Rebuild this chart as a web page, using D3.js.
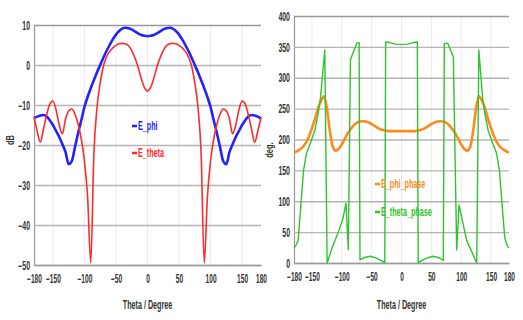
<!DOCTYPE html>
<html>
<head>
<meta charset="utf-8">
<script src="https://cdn.jsdelivr.net/npm/d3@7"></script>
<style>
  body { margin: 0; background: #fff; }
  svg { display: block; }
  text { font-family: "Liberation Sans", Arial, sans-serif; }
</style>
</head>
<body>
<svg id="chart" width="523" height="320"></svg>
<script>
// angle grid shared by the gain curves and the E_phi phase
const thetaGrid = d3.range(-180, 181, 5);

// left panel, dB
const ePhiDb = [
  -13.3, -12.9, -12.6, -12.5, -12.9, -13.8, -15, -16.5, -18, -19.8, -21.8, -24.8, -24,
  -20.5, -17, -13.8, -10.5, -8, -5.8, -3.8, -1.8, 0, 1.8, 3.5, 5, 6.4, 7.6, 8.5, 9.1,
  9.3, 9.2, 8.9, 8.4, 7.9, 7.5, 7.3, 7.2,
  7.3, 7.5, 7.9, 8.4, 8.9, 9.2, 9.3, 9.1, 8.5, 7.6, 6.4, 5, 3.5, 1.8, 0, -1.8, -3.8,
  -5.8, -8, -10.5, -13.8, -17, -20.5, -24, -24.8, -21.8, -19.8, -18, -16.5, -15, -13.8,
  -12.9, -12.5, -12.6, -12.9, -13.4
];
const eThetaDb = [
  -13, -16.5, -19.3, -16, -12.5, -9.8, -9, -11.2, -15, -17.2, -13.5, -11.5, -11,
  -12.3, -14.8, -18.5, -24, -33, -49.5, -22, -10.5, -4.5, -0.3, 2, 3.4, 4.3, 4.9, 5.3,
  5.4, 5.3, 4.8, 3.6, 1.8, -0.5, -3.3, -5.6, -6.5,
  -5.6, -3.3, -0.5, 1.8, 3.6, 4.8, 5.3, 5.4, 5.3, 4.9, 4.3, 3.4, 2, -0.3, -4.5, -10.5,
  -22, -49.5, -33, -24, -18.5, -14.8, -12.3, -11, -11.5, -13.5, -17.2, -15, -11.2, -9,
  -9.8, -12.5, -16, -19.3, -16.5, -13.2
];

// right panel, deg.
const ePhiPhase = [
  179, 181, 184, 188, 195, 205, 218, 233, 250, 262, 270, 252, 214,
  188, 182, 185, 192, 201, 210, 217, 223, 227, 229, 229.5, 229, 227.5, 225, 222, 219,
  216.5, 215, 214, 213.5, 213.5, 213.5, 213.5, 213.5,
  213.5, 213.5, 213.5, 213.5, 214, 215, 216.5, 219, 222, 225, 227.5, 229, 229.5, 229,
  227, 223, 217, 210, 201, 192, 185, 182, 188, 214, 252, 270, 262, 250, 233, 218, 205,
  195, 188, 184, 181, 179
];
// wrapped phase has its own sample angles (the jumps need close pairs)
const eThetaPhaseDeg = [
  -180, -177, -173, -168, -164, -159, -152, -145, -140, -136, -128.5, -124.5, -115, -105,
  -98, -93, -89, -85.5, -75, -71, -69.5, -62, -52, -42, -32, -28, -26.5, -20, -10, 0,
  10, 20, 26.5, 28, 32, 42, 52, 62, 70, 71.7, 77.3, 86.8, 92.4, 96.3, 109, 126, 129.5,
  136, 140, 145, 152, 159, 164, 168, 173, 177, 180
];
const eThetaPhase = [
  24, 28, 37, 100, 150, 178, 196, 215, 240, 264, 345, 0, 28, 52,
  72, 97, 22, 329, 356, 357, 5, 9, 11, 8, 3, 0, 358, 357, 354.5, 354,
  354.5, 357, 358, 0, 3, 8, 11, 9, 4, 355, 356, 334, 21, 94, 37, 0, 345,
  266, 240, 215, 196, 178, 150, 100, 40, 28, 24
];

const xTicks = [-180, -150, -100, -50, 0, 50, 100, 150, 180];
const dbTicks = [10, 0, -10, -20, -30, -40, -50];
const degTicks = [400, 350, 300, 250, 200, 150, 100, 50, 0];

const svg = d3.select('#chart');
const font = '"Liberation Sans", Arial, sans-serif';

const drawPanel = (p) => {
  const x = d3.scaleLinear().domain([-180, 180]).range([p.left, p.right]);
  const y = d3.scaleLinear().domain(p.yDomain).range([p.bottom, p.top]);
  const g = svg.append('g');

  // vertical grid, very faint
  g.append('g')
    .selectAll('line')
    .data(xTicks.slice(1, -1))
    .join('line')
    .attr('x1', d => x(d)).attr('x2', d => x(d))
    .attr('y1', p.top).attr('y2', p.bottom)
    .attr('stroke', '#ececec');

  // horizontal grid + y labels via axis
  const yAxis = g.append('g')
    .attr('transform', `translate(${p.left},0)`)
    .call(d3.axisLeft(y).tickValues(p.yTicks).tickSize(p.left - p.right));
  yAxis.select('.domain').attr('stroke', '#9a9a9a').attr('stroke-width', 1.2);
  yAxis.selectAll('.tick line').attr('stroke', '#b4b4b4').attr('stroke-width', 1.3);
  yAxis.selectAll('.tick line').filter(d => d === p.yDomain[1]).attr('stroke', '#999');
  // condensed look: scale glyphs horizontally
  yAxis.selectAll('.tick text')
    .attr('x', null).attr('dy', '0.35em')
    .attr('transform', 'translate(-4,0) scale(0.58,1)')
    .attr('font-family', font)
    .attr('font-size', 12).attr('font-weight', 'bold').attr('fill', '#333');

  const xAxis = g.append('g')
    .attr('transform', `translate(0,${p.bottom})`)
    .call(d3.axisBottom(x).tickValues(xTicks).tickSize(0));
  xAxis.select('.domain').attr('stroke', '#9a9a9a').attr('stroke-width', 1.5);
  xAxis.selectAll('.tick text')
    .attr('y', null).attr('dy', null)
    .attr('transform', 'translate(0,18) scale(0.55,1)')
    .attr('font-family', font)
    .attr('font-size', 12).attr('font-weight', 'bold').attr('fill', '#333');

  // titles
  g.append('text')
    .attr('transform', `translate(${(p.left + p.right) / 2},309) scale(0.6,1)`)
    .attr('text-anchor', 'middle')
    .attr('font-size', 12).attr('font-weight', 'bold').attr('fill', '#333')
    .text('Theta / Degree');
  g.append('text')
    .attr('transform', `translate(${p.titleX},${p.titleY}) rotate(-90) scale(0.75,1)`)
    .attr('text-anchor', 'middle')
    .attr('font-size', 10).attr('font-weight', 'bold').attr('fill', '#333')
    .text(p.yTitle);

  // curves
  p.series.forEach(s => {
    const pts = s.theta.map((t, i) => [t, s.values[i]]);
    g.append('path')
      .datum(pts)
      .attr('fill', 'none')
      .attr('stroke', s.color)
      .attr('stroke-width', s.width)
      .attr('stroke-linejoin', 'round')
      .attr('d', d3.line()
        .x(d => x(d[0])).y(d => y(d[1]))
        .curve(s.smooth ? d3.curveMonotoneX : d3.curveLinear));
  });

  // legend
  const lg = g.append('g').attr('transform', `translate(${p.legendX},${p.legendY})`);
  p.series.forEach((s, i) => {
    const row = lg.append('g').attr('transform', `translate(0,${i * p.legendGap})`);
    row.append('line')
      .attr('x1', 0).attr('x2', 5).attr('y1', 0).attr('y2', 0)
      .attr('stroke', s.color).attr('stroke-width', 2.5);
    row.append('text')
      .attr('transform', 'translate(6,4) scale(0.6,1)')
      .attr('font-size', 12).attr('font-weight', 'bold').attr('fill', s.color)
      .text(s.name);
  });
};

drawPanel({
  left: 34, right: 261, top: 25, bottom: 265,
  yDomain: [-50, 10], yTicks: dbTicks, yTitle: 'dB', titleX: 14, titleY: 140,
  legendX: 132, legendY: 126, legendGap: 27,
  series: [
    { name: 'E_phi', theta: thetaGrid, values: ePhiDb, color: '#2222ff', width: 2.6, smooth: true },
    { name: 'E_theta', theta: thetaGrid, values: eThetaDb, color: '#ff2a2a', width: 1.6, smooth: true }
  ]
});

drawPanel({
  left: 294, right: 509, top: 16, bottom: 263,
  yDomain: [0, 400], yTicks: degTicks, yTitle: 'deg.', titleX: 273, titleY: 150,
  legendX: 375, legendY: 184, legendGap: 28,
  series: [
    { name: 'E_phi_phase', theta: thetaGrid, values: ePhiPhase, color: '#ff8a1c', width: 2.6, smooth: true },
    { name: 'E_theta_phase', theta: eThetaPhaseDeg, values: eThetaPhase, color: '#2ec42e', width: 1.4, smooth: false }
  ]
});
</script>
</body>
</html>
